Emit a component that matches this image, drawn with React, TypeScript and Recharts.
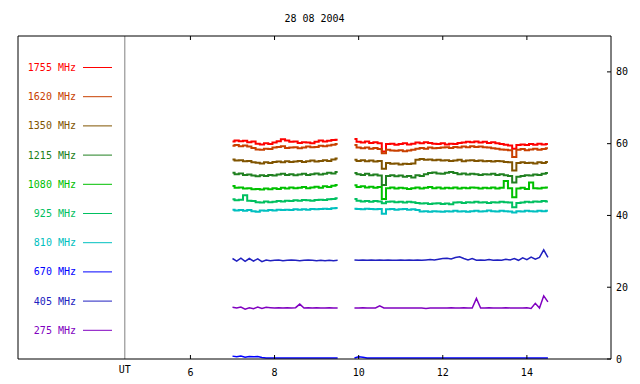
import { LineChart, Line, XAxis, YAxis, ReferenceLine, Legend } from 'recharts';

const TITLE = '28 08 2004';
const FONT = '"DejaVu Sans Mono", monospace';

const X_TICKS = [6, 8, 10, 12, 14];
const Y_TICKS = [0, 20, 40, 60, 80];

// morning block and afternoon block, hours UT
const TIMES_A = [7.0, 7.1, 7.2, 7.3, 7.4, 7.5, 7.6, 7.7, 7.8, 7.9, 8.0, 8.1, 8.2, 8.3, 8.4, 8.5, 8.6, 8.7, 8.8, 8.9, 9.0, 9.1, 9.2, 9.3, 9.4, 9.5];
const GAP_TIME = 9.7;
const TIMES_B = [
  9.9, 10.0, 10.1, 10.2, 10.3, 10.4, 10.5, 10.6, 10.7, 10.8,
  10.9, 11.0, 11.1, 11.2, 11.3, 11.4, 11.5, 11.6, 11.7, 11.8,
  11.9, 12.0, 12.1, 12.2, 12.3, 12.4, 12.5, 12.6, 12.7, 12.8,
  12.9, 13.0, 13.1, 13.2, 13.3, 13.4, 13.5, 13.6, 13.7, 13.8,
  13.9, 14.0, 14.1, 14.2, 14.3, 14.4, 14.5,
];

const F1755_A = [60.6, 60.9, 60.7, 60.8, 60.4, 60.6, 60.0, 59.8, 60.1, 59.9, 60.3, 60.7, 61.2, 60.9, 60.5, 60.6, 60.2, 60.4, 60.3, 60.1, 60.5, 60.9, 60.6, 60.8, 61.0, 61.1];
const F1755_B = [
  61.3, 60.5, 60.3, 60.6, 60.2, 60.4, 60.1, 57.8, 59.9, 60.0,
  59.7, 59.9, 60.1, 59.8, 60.0, 60.3, 60.1, 60.4, 60.2, 60.0,
  59.9, 60.1, 59.8, 60.0, 59.9, 60.2, 60.3, 60.5, 60.4, 60.6,
  60.3, 60.5, 60.2, 60.4, 60.1, 59.9, 59.7, 59.5, 58.6, 59.6,
  59.8, 59.6, 59.9, 59.7, 60.0, 59.8, 59.9,
];

const F1620_A = [59.4, 59.6, 59.3, 59.5, 59.2, 58.8, 58.4, 58.3, 58.6, 58.5, 58.9, 59.1, 59.3, 58.8, 58.9, 59.0, 58.7, 58.9, 59.2, 59.0, 59.1, 59.4, 59.3, 59.5, 59.7, 59.9];
const F1620_B = [
  59.6, 58.9, 58.7, 58.9, 58.6, 58.8, 58.5, 57.3, 58.3, 58.1,
  58.0, 58.2, 57.9, 58.1, 58.3, 58.6, 58.8, 58.6, 58.9, 58.7,
  58.8, 58.9, 59.0, 58.8, 59.1, 58.9, 59.2, 59.0, 59.3, 59.1,
  59.2, 59.0, 58.9, 58.7, 58.6, 58.4, 58.3, 58.2, 56.3, 58.3,
  58.5, 58.2, 58.4, 58.6, 58.3, 58.5, 58.7,
];

const F1350_A = [55.6, 55.3, 55.4, 55.1, 55.2, 54.8, 54.7, 54.5, 54.8, 54.6, 54.9, 55.0, 54.8, 55.1, 54.9, 55.0, 55.2, 54.9, 55.1, 55.3, 55.0, 55.2, 55.4, 55.2, 55.6, 55.9];
const F1350_B = [
  55.5, 55.2, 55.4, 55.1, 55.3, 55.0, 55.2, 53.0, 54.6, 54.4,
  54.5, 54.2, 54.4, 54.3, 54.5, 55.5, 55.7, 55.5, 55.6, 55.4,
  55.5, 55.3, 55.4, 55.2, 55.3, 55.5, 55.1, 55.3, 55.4, 55.2,
  55.3, 55.1, 55.2, 55.0, 55.2, 55.1, 54.9, 54.8, 52.5, 54.6,
  54.8, 54.6, 54.7, 54.5, 54.8, 54.6, 54.9,
];

const F1215_A = [51.9, 51.5, 51.7, 51.3, 51.4, 51.1, 50.9, 51.2, 51.0, 51.3, 51.1, 51.4, 51.6, 51.3, 51.5, 51.2, 51.4, 51.6, 51.3, 51.5, 51.7, 51.4, 51.6, 51.9, 51.7, 52.1];
const F1215_B = [
  51.8, 51.5, 51.3, 51.6, 51.2, 51.4, 51.1, 48.5, 51.0, 51.2,
  50.9, 51.1, 50.8, 51.0, 50.6, 51.2, 51.0, 51.5, 51.8, 52.0,
  51.7, 51.6, 51.9, 52.1, 51.8, 51.5, 51.7, 51.4, 51.6, 51.5,
  51.3, 51.5, 51.4, 51.6, 51.3, 51.5, 51.2, 51.0, 49.2, 50.8,
  51.0, 51.2, 51.1, 51.4, 51.3, 51.6, 51.8,
];

const F1080_A = [48.2, 47.7, 47.8, 47.5, 47.6, 47.3, 47.4, 47.2, 47.5, 47.3, 47.6, 47.4, 47.7, 47.5, 47.8, 47.6, 47.7, 47.9, 47.6, 47.8, 48.0, 47.7, 48.1, 47.9, 48.3, 48.5];
const F1080_B = [
  48.4, 47.9, 48.1, 47.8, 48.0, 47.7, 47.9, 44.6, 47.6, 47.8,
  47.5, 47.7, 47.6, 47.4, 47.6, 47.8, 47.5, 47.7, 47.9, 47.6,
  47.8, 47.5, 47.7, 47.6, 47.8, 47.5, 47.7, 47.6, 47.8, 47.7,
  47.5, 47.7, 47.6, 47.8, 47.5, 47.7, 49.6, 47.6, 45.1, 47.5,
  47.7, 47.4, 49.2, 47.6, 47.5, 47.7, 47.8,
];

const F925_A = [44.5, 44.2, 44.4, 45.6, 44.1, 44.0, 43.7, 43.6, 43.9, 43.7, 43.8, 44.0, 43.9, 44.1, 44.0, 44.2, 44.1, 44.3, 44.2, 44.1, 44.3, 44.4, 44.3, 44.5, 44.6, 44.8];
const F925_B = [
  44.6, 44.1, 43.9, 44.0, 43.8, 44.0, 43.9, 43.4, 43.8, 43.9,
  43.7, 43.8, 43.6, 43.8, 43.7, 43.5, 43.3, 43.4, 43.2, 43.3,
  43.4, 43.2, 43.3, 43.1, 43.6, 43.7, 43.5, 43.7, 43.6, 43.8,
  43.6, 43.7, 43.5, 43.7, 43.6, 43.8, 43.7, 43.6, 42.3, 43.5,
  43.6, 43.8, 43.7, 43.9, 43.8, 44.0, 43.9,
];

const F810_A = [41.6, 41.4, 41.5, 41.3, 41.5, 41.2, 41.0, 41.4, 41.3, 41.5, 41.4, 41.6, 41.5, 41.6, 41.5, 41.7, 41.6, 41.7, 41.6, 41.8, 41.7, 41.8, 41.9, 41.8, 42.0, 42.1];
const F810_B = [
  41.9, 41.8, 41.7, 41.9, 41.8, 41.7, 41.8, 40.5, 41.7, 41.8,
  41.6, 41.7, 41.8, 41.6, 41.7, 41.5, 41.1, 41.2, 41.0, 41.2,
  41.1, 41.0, 41.2, 41.1, 41.3, 41.1, 41.2, 41.0, 41.2, 41.3,
  41.1, 41.2, 41.4, 41.2, 41.1, 41.3, 41.2, 41.1, 40.8, 41.2,
  41.1, 41.3, 41.2, 41.1, 41.3, 41.2, 41.3,
];

const F670_A = [0.8, 0.6, 0.8, 0.5, 0.7, 0.6, 0.7, 0.4, 0.3, 0.3, 0.3, 0.3, 0.3, 0.3, 0.3, 0.3, 0.3, 0.3, 0.3, 0.3, 0.3, 0.3, 0.3, 0.3, 0.3, 0.3];
const F670_B = [
  0.3, 0.6, 0.5, 0.3, 0.3, 0.3, 0.3, 0.3, 0.3, 0.3,
  0.3, 0.3, 0.3, 0.3, 0.3, 0.3, 0.3, 0.3, 0.3, 0.3,
  0.3, 0.3, 0.3, 0.3, 0.3, 0.3, 0.3, 0.3, 0.3, 0.3,
  0.3, 0.3, 0.3, 0.3, 0.3, 0.3, 0.3, 0.3, 0.3, 0.3,
  0.3, 0.3, 0.3, 0.3, 0.3, 0.3, 0.3,
];

const F405_A = [28.0, 27.3, 28.1, 27.2, 28.0, 27.3, 27.9, 27.1, 27.6, 27.4, 27.5, 27.6, 27.4, 27.5, 27.6, 27.5, 27.4, 27.5, 27.6, 27.5, 27.4, 27.5, 27.4, 27.5, 27.4, 27.5];
const F405_B = [
  27.6, 27.5, 27.6, 27.5, 27.6, 27.5, 27.6, 27.5, 27.6, 27.5,
  27.5, 27.6, 27.5, 27.6, 27.5, 27.6, 27.5, 27.6, 27.7, 27.6,
  27.8, 28.0, 28.1, 27.9, 28.3, 28.5, 28.0, 27.6, 28.0, 27.5,
  27.6, 27.5, 27.7, 27.5, 27.6, 27.5, 27.8, 27.6, 28.0, 27.5,
  28.2, 27.7, 28.4, 27.8, 28.3, 30.4, 28.3,
];

const F275_A = [14.4, 14.2, 14.5, 13.9, 14.3, 14.0, 14.5, 14.1, 14.4, 14.3, 14.2, 14.3, 14.2, 14.3, 14.2, 14.3, 15.3, 14.2, 14.3, 14.2, 14.3, 14.2, 14.2, 14.3, 14.2, 14.2];
const F275_B = [
  14.2, 14.2, 14.3, 14.2, 14.2, 14.2, 14.8, 14.2, 14.2, 14.2,
  14.2, 14.2, 14.2, 14.2, 14.2, 14.2, 14.2, 14.1, 14.2, 14.2,
  14.2, 14.2, 14.2, 14.3, 14.2, 14.2, 14.3, 14.2, 14.2, 16.9,
  14.2, 14.2, 14.3, 14.2, 14.2, 14.2, 14.3, 14.2, 14.2, 14.2,
  14.2, 14.3, 14.1, 15.5, 14.2, 17.6, 15.9,
];

const SERIES = [
  { key: 'f1755', name: '1755 MHz', color: '#ff0000', a: F1755_A, b: F1755_B },
  { key: 'f1620', name: '1620 MHz', color: '#c84000', a: F1620_A, b: F1620_B },
  { key: 'f1350', name: '1350 MHz', color: '#805400', a: F1350_A, b: F1350_B },
  { key: 'f1215', name: '1215 MHz', color: '#208020', a: F1215_A, b: F1215_B },
  { key: 'f1080', name: '1080 MHz', color: '#00c000', a: F1080_A, b: F1080_B },
  { key: 'f925', name: '925 MHz', color: '#00c060', a: F925_A, b: F925_B },
  { key: 'f810', name: '810 MHz', color: '#00c0c0', a: F810_A, b: F810_B },
  { key: 'f670', name: '670 MHz', color: '#0000ff', a: F670_A, b: F670_B },
  { key: 'f405', name: '405 MHz', color: '#2020c0', a: F405_A, b: F405_B },
  { key: 'f275', name: '275 MHz', color: '#8000c0', a: F275_A, b: F275_B },
];

// low-frequency channels are drawn thinner and unstepped
const THIN = ['f670', 'f405', 'f275'];
const X_DOMAIN = [1.9, 16];
const UT_LINE = 4.44;

function buildRows() {
  const rows: Record<string, number>[] = [];
  TIMES_A.forEach((t, i) => {
    const row: Record<string, number> = { t };
    SERIES.forEach((s) => (row[s.key] = s.a[i]));
    rows.push(row);
  });
  rows.push({ t: GAP_TIME });
  TIMES_B.forEach((t, i) => {
    const row: Record<string, number> = { t };
    SERIES.forEach((s) => (row[s.key] = s.b[i]));
    rows.push(row);
  });
  return rows;
}

const data = buildRows();

function LegendBox() {
  return (
    <svg width={120} height={345} style={{ display: 'block' }}>
      {SERIES.map((s, i) => {
        const y = 67.5 + i * 29.2;
        return (
          <g key={s.key}>
            <text x={76} y={y + 3.5} textAnchor="end" fill={s.color} fontSize={10} fontFamily={FONT}>
              {s.name}
            </text>
            <line x1={83} x2={112} y1={y} y2={y} stroke={s.color} strokeWidth={1} />
          </g>
        );
      })}
    </svg>
  );
}

export default function App() {
  const tickStyle = { fontSize: 10, fontFamily: FONT, fill: '#000' };
  return (
    <div style={{ position: 'absolute', left: 0, top: 0, width: 640, height: 384, background: '#fff' }}>
      <LineChart width={640} height={384} data={data} margin={{ top: 35, right: 0, bottom: 5, left: 18 }}>
        <XAxis
          dataKey="t"
          type="number"
          domain={X_DOMAIN}
          ticks={X_TICKS}
          allowDataOverflow
          height={20}
          stroke="#000"
          tickSize={-4}
          tickMargin={14}
          tick={tickStyle}
        />
        <XAxis
          xAxisId="top"
          dataKey="t"
          type="number"
          orientation="top"
          domain={X_DOMAIN}
          ticks={X_TICKS}
          allowDataOverflow
          height={1}
          stroke="#000"
          tickSize={-4}
          tickFormatter={() => ''}
          label={{ value: TITLE, position: 'top', offset: 13, fontSize: 10, fontFamily: FONT, fill: '#000' }}
        />
        <YAxis
          orientation="right"
          type="number"
          domain={[0, 90]}
          ticks={Y_TICKS}
          allowDataOverflow
          width={29}
          stroke="#000"
          tickSize={-4}
          tickMargin={9}
          tick={tickStyle}
        />
        <ReferenceLine x={X_DOMAIN[0]} stroke="#000" ifOverflow="visible" />
        <ReferenceLine
          x={UT_LINE}
          stroke="#808080"
          label={{ value: 'UT', position: 'bottom', offset: 7, fontSize: 10, fontFamily: FONT, fill: '#000' }}
        />
        <Legend
          layout="horizontal"
          verticalAlign="middle"
          align="center"
          content={() => <LegendBox />}
          wrapperStyle={{ left: 0, top: 0, width: 120, height: 345 }}
        />
        {SERIES.map((s) => (
          <Line
            key={s.key}
            dataKey={s.key}
            name={s.name}
            stroke={s.color}
            strokeWidth={THIN.includes(s.key) ? 1.5 : 2}
            dot={false}
            type={THIN.includes(s.key) ? 'linear' : 'step'}
            connectNulls={false}
            isAnimationActive={false}
          />
        ))}
      </LineChart>
    </div>
  );
}
